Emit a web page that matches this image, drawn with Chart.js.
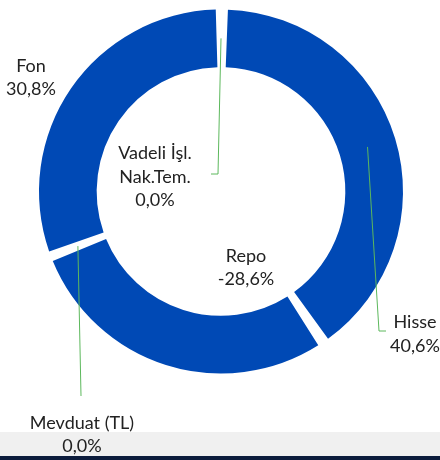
<!DOCTYPE html>
<html>
<head>
<meta charset="utf-8">
<script src="https://cdn.jsdelivr.net/npm/chart.js@4.4.1/dist/chart.umd.min.js"></script>
<style>
  html, body { margin: 0; padding: 0; }
  body {
    width: 440px; height: 460px; overflow: hidden;
    background: linear-gradient(to bottom, #fff 0, #fff 432px, #f0f0f0 432px, #f0f0f0 456px, #0c1c3c 456px);
  }
  canvas { display: block; }
</style>
</head>
<body>
<canvas id="pieDagilim" width="440" height="460"></canvas>
<script>
// slices clockwise from 12 o'clock
const categories = ["Hisse", "Repo", "Mevduat (TL)", "Fon", "Vadeli İşl.\nNak.Tem."];
const shares = [40.6, -28.6, 0.0, 30.8, 0.0];

// label placement, offsets from the doughnut centre (px)
const labelSpots = [
  { dx: 194, dy: 142.5, leader: [[158, 139.5], [165, 139.5]] },
  { dx: 25, dy: 76 },
  { dx: -139, dy: 243, leader: [[-140, 204.5]] },
  { dx: -190, dy: -114 },
  { dx: -66, dy: -14.5, leader: [[-3, -17.5], [-10, -17.5]] },
];

const fmt = (v) => v.toFixed(1).replace(".", ",") + "%";

const sliceLabels = {
  id: "sliceLabels",
  afterDatasetsDraw(chart) {
    const { ctx } = chart;
    const arcs = chart.getDatasetMeta(0).data;
    const cx = arcs[0].x, cy = arcs[0].y;
    ctx.save();
    // leader lines
    ctx.strokeStyle = "#5cb85c";
    ctx.lineWidth = 1;
    arcs.forEach((arc, i) => {
      const spot = labelSpots[i];
      if (!spot.leader) return;
      const p = arc.tooltipPosition();
      ctx.beginPath();
      ctx.moveTo(p.x, p.y);
      spot.leader.forEach(([x, y]) => ctx.lineTo(cx + x, cy + y));
      ctx.stroke();
    });
    // texts
    ctx.fillStyle = "#222";
    ctx.font = "18px Lato";
    ctx.textAlign = "center";
    ctx.textBaseline = "middle";
    const lh = 23.5;
    categories.forEach((name, i) => {
      const lines = name.split("\n").concat(fmt(shares[i]));
      const spot = labelSpots[i];
      const top = cy + spot.dy - (lines.length - 1) * lh / 2;
      lines.forEach((t, k) => ctx.fillText(t, cx + spot.dx, top + k * lh));
    });
    ctx.restore();
  }
};

new Chart(document.getElementById("pieDagilim"), {
  type: "doughnut",
  data: {
    labels: categories,
    datasets: [
      {
        data: shares.map((v) => Math.abs(v)),
        backgroundColor: "#0049b5",
        borderWidth: 0,
        spacing: 9,
      },
    ],
  },
  options: {
    responsive: false,
    animation: false,
    events: [],
    cutout: "67.5%",
    layout: { padding: { left: 39, right: 37, top: 9, bottom: 86 } },
    plugins: {
      legend: { display: false },
      tooltip: { enabled: false },
    },
  },
  plugins: [sliceLabels],
});
</script>
</body>
</html>
